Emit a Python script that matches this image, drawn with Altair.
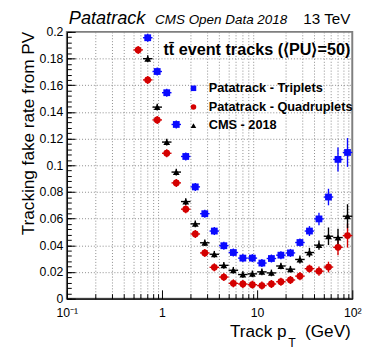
import altair as alt
import pandas as pd

# ---------------- data ----------------
pt_bins = [0.562, 0.708, 0.891, 1.122, 1.413, 1.778, 2.239, 2.818, 3.548, 4.467,
           5.623, 7.079, 8.913, 11.22, 14.13, 17.78, 22.39, 28.18, 35.48, 44.67,
           56.23, 70.79, 89.13]

triplets = [None, 0.1956, 0.1703, 0.1544, 0.1306, 0.1066, 0.0838, 0.0637, 0.0507, 0.0397,
            0.0346, 0.0304, 0.0304, 0.0267, 0.0301, 0.0326, 0.0343, 0.0421, 0.0507, 0.0598,
            0.0762, 0.1044, 0.1096]
triplets_err = [0, 0.003, 0.003, 0.003, 0.003, 0.003, 0.003, 0.003, 0.003, 0.003,
                0.003, 0.003, 0.003, 0.003, 0.003, 0.003, 0.003, 0.003, 0.0037, 0.0047,
                0.0062, 0.009, 0.0108]

quadruplets = [0.1865, 0.1640, 0.1340, 0.1090, 0.0868, 0.0671, 0.0485, 0.0343, 0.0235, 0.0162,
               0.0115, 0.0110, 0.0105, 0.0098, 0.0110, 0.0127, 0.0140, 0.0169, 0.0225, 0.0206,
               0.0237, 0.0385, 0.0473]
quadruplets_err = [0.003, 0.003, 0.003, 0.003, 0.003, 0.003, 0.003, 0.003, 0.003, 0.003,
                   0.003, 0.003, 0.003, 0.003, 0.003, 0.003, 0.003, 0.003, 0.003, 0.0035,
                   0.004, 0.006, 0.009]

cms2018 = [None, 0.1799, 0.1436, 0.1174, 0.0949, 0.0728, 0.0561, 0.0419, 0.0333, 0.0250,
           0.0213, 0.0181, 0.0186, 0.0201, 0.0193, 0.0245, 0.0221, 0.0294, 0.0346, 0.0401,
           0.0468, 0.0458, 0.0618]
cms2018_err = [0, 0.0025, 0.0025, 0.0025, 0.0025, 0.0025, 0.0025, 0.0025, 0.0025, 0.0025,
               0.0025, 0.0025, 0.0025, 0.0025, 0.0025, 0.0025, 0.0025, 0.003, 0.0035, 0.0035,
               0.0066, 0.0067, 0.009]

series_names = ["Patatrack - Triplets", "Patatrack - Quadruplets", "CMS - 2018"]
series_colors = ["#0a0aff", "#d40000", "#000000"]
series_shapes = ["square", "circle", "triangle-up"]

x_major = [0.1, 1, 10, 100]
x_minor = [0.2, 0.3, 0.4, 0.5, 0.6, 0.7, 0.8, 0.9,
           2, 3, 4, 5, 6, 7, 8, 9,
           20, 30, 40, 50, 60, 70, 80, 90]
y_major = [0, 0.02, 0.04, 0.06, 0.08, 0.1, 0.12, 0.14, 0.16, 0.18, 0.2]
y_minor = [round(i * 0.004, 3) for i in range(51)]

rows = []
for name, vals, errs in [(series_names[0], triplets, triplets_err),
                         (series_names[1], quadruplets, quadruplets_err),
                         (series_names[2], cms2018, cms2018_err)]:
    for p, v, e in zip(pt_bins, vals, errs):
        if v is None:
            continue
        rows.append({"series": name, "pt": p, "val": v, "err": e})
df = pd.DataFrame(rows)

FONT = "Liberation Sans"
W, H = 291, 272

xscale = alt.Scale(type="log", domain=[0.1, 100], nice=False)
yscale = alt.Scale(domain=[0, 0.2], nice=False, zero=False)

base = alt.Chart(df)

# grid
grid = base.mark_point(opacity=0).encode(
    x=alt.X("pt:Q", scale=xscale, axis=alt.Axis(
        orient="bottom", values=x_minor, grid=True, gridDash=[1, 2], gridColor="#8a8a8a",
        gridWidth=1, labels=False, ticks=False, tickSize=0, domain=False, title=None)),
    y=alt.Y("val:Q", scale=yscale, axis=alt.Axis(
        orient="left", values=y_major[1:-1], grid=True, gridDash=[1, 2], gridColor="#8a8a8a",
        gridWidth=1, labels=False, ticks=False, tickSize=0, domain=False, title=None)),
)

# inner minor ticks
minor_ticks = base.mark_point(opacity=0).encode(
    x=alt.X("pt:Q", scale=xscale, axis=alt.Axis(
        orient="top", offset=-H, values=x_minor, tickSize=5, tickColor="black", tickWidth=1,
        labels=False, domain=False, grid=False, title=None)),
    y=alt.Y("val:Q", scale=yscale, axis=alt.Axis(
        orient="right", offset=-W, values=y_minor, tickSize=4.5, tickColor="black", tickWidth=1,
        labels=False, domain=False, grid=False, title=None)),
)

# inner major ticks
major_ticks = base.mark_point(opacity=0).encode(
    x=alt.X("pt:Q", scale=xscale, axis=alt.Axis(
        orient="top", offset=-H, values=x_major, tickSize=9, tickColor="black", tickWidth=1,
        labels=False, domain=False, grid=False, title=None)),
    y=alt.Y("val:Q", scale=yscale, axis=alt.Axis(
        orient="right", offset=-W, values=y_major, tickSize=8.5, tickColor="black", tickWidth=1,
        labels=False, domain=False, grid=False, title=None)),
)

# labelled axes
label_axes = base.mark_point(opacity=0).encode(
    x=alt.X("pt:Q", scale=xscale, axis=alt.Axis(
        orient="bottom", values=x_major, ticks=False, tickSize=0, grid=False,
        domain=True, domainColor="black", domainWidth=1.2,
        labelExpr="datum.value < 0.5 ? '10\u207b\u00b9' : datum.value > 50 ? '10\u00b2' : datum.value > 5 ? '10' : '1'",
        labelFont=FONT, labelFontSize=12.5, labelColor="black", labelPadding=8,
        labelFlush=False, title=None)),
    y=alt.Y("val:Q", scale=yscale, axis=alt.Axis(
        orient="left", values=y_major, ticks=False, tickSize=0, grid=False,
        domain=True, domainColor="black", domainWidth=1.2, format="~g",
        labelFont=FONT, labelFontSize=12.5, labelColor="black", labelPadding=4,
        labelFlush=False, title=None)),
)

legend = alt.Legend(orient="none", legendX=122.6, legendY=51, title=None,
                    labelFont=FONT, labelFontWeight="bold", labelFontSize=13,
                    labelColor="black", symbolSize=32, labelOffset=9,
                    rowPadding=5, padding=0, symbolStrokeWidth=0)
color_scale = alt.Scale(domain=series_names, range=series_colors)
color = alt.Color("series:N", scale=color_scale, legend=legend)
shape = alt.Shape("series:N", scale=alt.Scale(domain=series_names, range=series_shapes),
                  legend=legend)

yerr = base.transform_calculate(
    lo="datum.val - datum.err", hi="datum.val + datum.err"
).mark_rule(strokeWidth=1.4).encode(
    x=alt.X("pt:Q", scale=xscale, axis=None),
    y=alt.Y("lo:Q", scale=yscale, axis=None),
    y2="hi:Q",
    color=color,
)

xerr = base.transform_calculate(
    xlo="datum.pt / pow(10, 0.05)", xhi="datum.pt * pow(10, 0.05)"
).mark_rule(strokeWidth=1.4).encode(
    x=alt.X("xlo:Q", scale=xscale, axis=None),
    x2="xhi:Q",
    y=alt.Y("val:Q", scale=yscale, axis=None),
    color=color,
)

points = base.mark_point(filled=True, opacity=1, size=48).encode(
    x=alt.X("pt:Q", scale=xscale, axis=None),
    y=alt.Y("val:Q", scale=yscale, axis=None),
    color=color,
    shape=shape,
)


def label(text, x, y, size, weight="normal", style="normal", align="left", angle=0, baseline="alphabetic"):
    kw = dict(font=FONT, fontSize=size, fontWeight=weight, fontStyle=style, align=align,
              baseline=baseline, color="black")
    if angle:
        kw["angle"] = angle
    return alt.Chart(pd.DataFrame({"t": [text]})).mark_text(**kw).encode(
        text="t:N", x=alt.value(x), y=alt.value(y))


texts = [
    label("Patatrack", 2, -8, 18.5, style="italic"),
    label("CMS Open Data 2018", 90, -8.3, 13.7, style="italic"),
    label("13 TeV", 289, -8.3, 15.5, align="right"),
    label("t\u0074\u0304 event tracks (\u27e8PU\u27e9=50)", 289, 23.5, 16.5, weight="bold", align="right"),
    label("Tracking fake rate from PV", -33, 0, 17.5, align="right", angle=270),
    label("Track p", 224, 311, 17.5, align="right"),
    label("T", 229.5, 321, 12.5, align="center"),
    label("(GeV)", 289.5, 311, 17.5, align="right"),
]

chart = alt.layer(grid, minor_ticks, major_ticks, label_axes, xerr, yerr, points, *texts).resolve_axis(
    x="independent", y="independent"
).properties(
    width=W, height=H,
    autosize=alt.AutoSizeParams(type="none"),
    padding={"left": 60, "top": 21, "right": 14, "bottom": 50},
).configure_view(stroke="#7f7f7f", strokeWidth=2)

chart.save("out.html", embed_options={"renderer": "svg", "actions": False})
